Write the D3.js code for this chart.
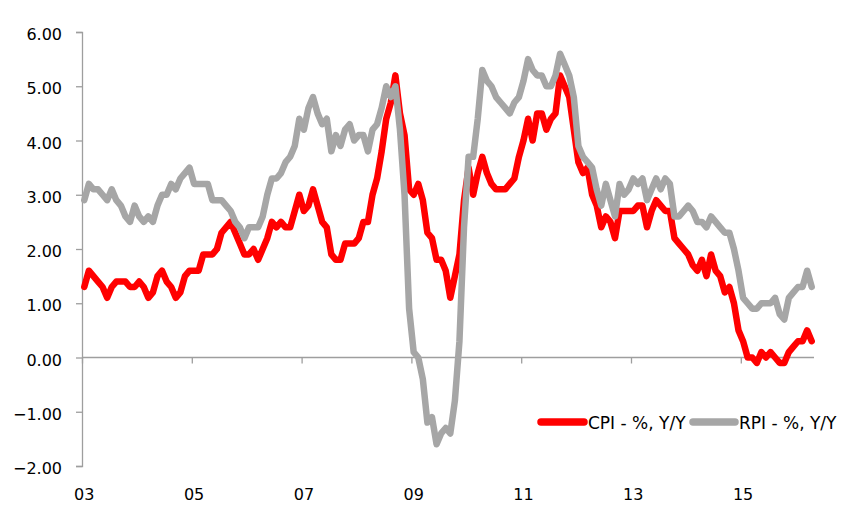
<!DOCTYPE html>
<html>
<head>
<meta charset="utf-8">
<script src="https://cdn.jsdelivr.net/npm/d3@7/dist/d3.min.js"></script>
<style>
  html, body { margin: 0; padding: 0; background: #fff; }
  svg { display: block; }
  text { font-family: "DejaVu Sans", sans-serif; fill: #000; }
</style>
</head>
<body>
<svg id="chart" width="863" height="525"></svg>
<script>
// Monthly data, Jan 2003 .. Apr 2016
const startYear = 2003;
const cpi = [
  1.3,1.6,1.5,1.4,1.3,1.1,1.3,1.4,1.4,1.4,1.3,1.3,   // 2003
  1.4,1.3,1.1,1.2,1.5,1.6,1.4,1.3,1.1,1.2,1.5,1.6,   // 2004
  1.6,1.6,1.9,1.9,1.9,2.0,2.3,2.4,2.5,2.3,2.1,1.9,   // 2005
  1.9,2.0,1.8,2.0,2.2,2.5,2.4,2.5,2.4,2.4,2.7,3.0,   // 2006
  2.7,2.8,3.1,2.8,2.5,2.4,1.9,1.8,1.8,2.1,2.1,2.1,   // 2007
  2.2,2.5,2.5,3.0,3.3,3.8,4.4,4.7,5.2,4.5,4.1,3.1,   // 2008
  3.0,3.2,2.9,2.3,2.2,1.8,1.8,1.6,1.1,1.5,1.9,2.9,   // 2009
  3.5,3.0,3.4,3.7,3.4,3.2,3.1,3.1,3.1,3.2,3.3,3.7,   // 2010
  4.0,4.4,4.0,4.5,4.5,4.2,4.4,4.5,5.2,5.0,4.8,4.2,   // 2011
  3.6,3.4,3.5,3.0,2.8,2.4,2.6,2.5,2.2,2.7,2.7,2.7,   // 2012
  2.7,2.8,2.8,2.4,2.7,2.9,2.8,2.7,2.7,2.2,2.1,2.0,   // 2013
  1.9,1.7,1.6,1.8,1.5,1.9,1.6,1.5,1.2,1.3,1.0,0.5,   // 2014
  0.3,0.0,0.0,-0.1,0.1,0.0,0.1,0.0,-0.1,-0.1,0.1,0.2, // 2015
  0.3,0.3,0.5,0.3                                     // 2016
];
const rpi = [
  2.9,3.2,3.1,3.1,3.0,2.9,3.1,2.9,2.8,2.6,2.5,2.8,   // 2003
  2.6,2.5,2.6,2.5,2.8,3.0,3.0,3.2,3.1,3.3,3.4,3.5,   // 2004
  3.2,3.2,3.2,3.2,2.9,2.9,2.9,2.8,2.7,2.5,2.4,2.2,   // 2005
  2.4,2.4,2.4,2.6,3.0,3.3,3.3,3.4,3.6,3.7,3.9,4.4,   // 2006
  4.2,4.6,4.8,4.5,4.3,4.4,3.8,4.1,3.9,4.2,4.3,4.0,   // 2007
  4.1,4.1,3.8,4.2,4.3,4.6,5.0,4.8,5.0,4.2,3.0,0.9,   // 2008
  0.1,0.0,-0.4,-1.2,-1.1,-1.6,-1.4,-1.3,-1.4,-0.8,0.3,2.4, // 2009
  3.7,3.7,4.4,5.3,5.1,5.0,4.8,4.7,4.6,4.5,4.7,4.8,   // 2010
  5.1,5.5,5.3,5.2,5.2,5.0,5.0,5.2,5.6,5.4,5.2,4.8,   // 2011
  3.9,3.7,3.6,3.5,3.1,2.8,3.2,2.9,2.6,3.2,3.0,3.1,   // 2012
  3.3,3.2,3.3,2.9,3.1,3.3,3.1,3.3,3.2,2.6,2.6,2.7,   // 2013
  2.8,2.7,2.5,2.5,2.4,2.6,2.5,2.4,2.3,2.3,2.0,1.6,   // 2014
  1.1,1.0,0.9,0.9,1.0,1.0,1.0,1.1,0.8,0.7,1.1,1.2,   // 2015
  1.3,1.3,1.6,1.3                                     // 2016
];
const yTicks = [-2, -1, 0, 1, 2, 3, 4, 5, 6];
const xTickLabels = ["03", "05", "07", "09", "11", "13", "15"];
const seriesNames = ["CPI - %, Y/Y", "RPI - %, Y/Y"];
const seriesColors = ["#FF0000", "#A6A6A6"];

const svg = d3.select("#chart");
const plotL = 82, plotR = 814, plotT = 32, plotB = 466;
const nSlots = 160;

const x = d3.scaleLinear().domain([0, nSlots]).range([plotL, plotR]);
const y = d3.scaleLinear().domain([-2, 6]).range([plotB, plotT]);
const axisColor = "#9E9E9E";

// Y axis
const yAxis = d3.axisLeft(y).tickValues(yTicks).tickSize(6).tickFormat(d3.format(".2f"));
const gy = svg.append("g").attr("transform", `translate(${plotL},0)`).call(yAxis);
gy.select(".domain").attr("stroke", axisColor).attr("stroke-width", 1.3);
gy.selectAll(".tick line").attr("stroke", axisColor).attr("stroke-width", 1.3);
gy.selectAll(".tick text")
  .attr("x", -20).attr("dy", null).attr("y", 7.5)
  .style("font-size", "16px").style("font-family", "DejaVu Sans, sans-serif").attr("fill", "#000");

// X axis along y=0
const xTickVals = xTickLabels.map((d, i) => i * 24);
const xAxis = d3.axisBottom(x).tickValues(xTickVals).tickSize(6).tickFormat("");
const gx = svg.append("g").attr("transform", `translate(0,${y(0)})`).call(xAxis);
gx.select(".domain").attr("stroke", axisColor).attr("stroke-width", 1.3)
  .attr("d", `M${plotL},0H${plotR}`);
gx.selectAll(".tick line").attr("stroke", axisColor).attr("stroke-width", 1.3);

// X labels at the bottom (low position)
svg.append("g").selectAll("text").data(xTickLabels).join("text")
  .attr("x", (d, i) => x(i * 24 + 0.5))
  .attr("y", 500)
  .attr("text-anchor", "middle")
  .style("font-size", "16px")
  .text(d => d);

// Lines
const line = d3.line().x((d, i) => x(i + 0.5)).y(d => y(d));
[cpi, rpi].forEach((s, k) => {
  svg.append("path").datum(s)
    .attr("d", line)
    .attr("fill", "none")
    .attr("stroke", seriesColors[k])
    .attr("stroke-width", 6.5)
    .attr("stroke-linejoin", "round")
    .attr("stroke-linecap", "round");
});

// Legend
const legendItems = [
  { x1: 541, x2: 584, tx: 588 },
  { x1: 693, x2: 735, tx: 739 }
];
const lg = svg.append("g");
legendItems.forEach((p, k) => {
  lg.append("line")
    .attr("x1", p.x1).attr("x2", p.x2).attr("y1", 422).attr("y2", 422)
    .attr("stroke", seriesColors[k]).attr("stroke-width", 7.5).attr("stroke-linecap", "round");
  lg.append("text").attr("x", p.tx).attr("y", 429)
    .style("font-size", "17px").text(seriesNames[k]);
});
</script>
</body>
</html>
